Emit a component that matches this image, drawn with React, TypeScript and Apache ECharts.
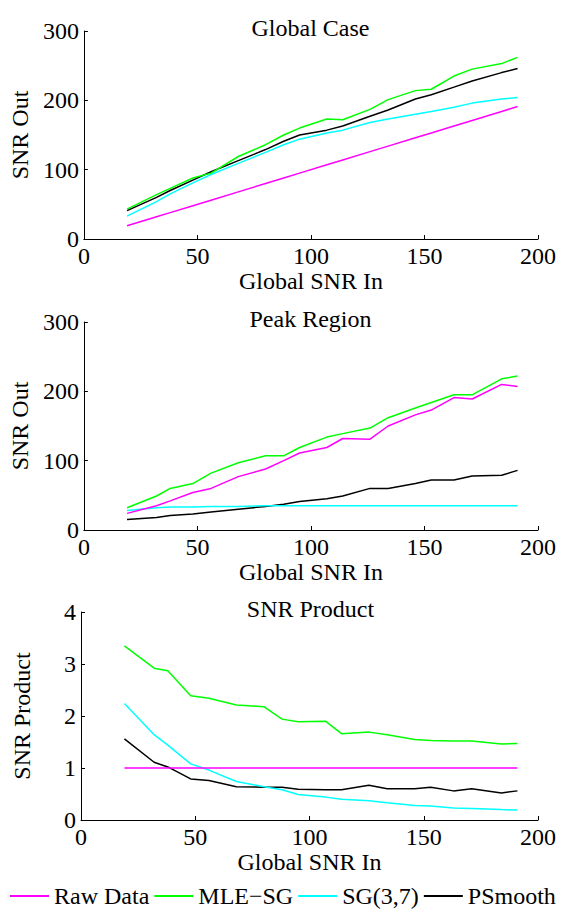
import React, { useEffect, useRef } from "react";
import * as echarts from "echarts";

// Global SNR In (x positions of samples)
const snrIn = [19, 32, 38, 48, 56, 68, 80, 88, 95, 107, 114, 126, 134, 146, 153, 163, 171, 184, 191];

// Panel 1: Global Case (SNR Out)
const globalRaw = [19, 32, 38, 48, 56, 68, 80, 88, 95, 107, 114, 126, 134, 146, 153, 163, 171, 184, 191];
const globalMle = [43, 64, 73, 88, 95, 119, 136, 150, 160, 173, 172, 187, 201, 214, 216, 235, 245, 253, 262];
const globalSg = [33, 54, 65, 81, 93, 109, 125, 136, 144, 153, 157, 168, 173, 180, 184, 190, 196, 202, 204];
const globalPs = [41, 60, 70, 85, 97, 113, 129, 141, 150, 157, 163, 177, 186, 202, 208, 219, 228, 240, 246];

// Panel 2: Peak Region (SNR Out)
const peakRaw = [24, 35, 42, 54, 60, 77, 88, 100, 111, 119, 132, 131, 150, 166, 173, 191, 189, 210, 207];
const peakMle = [32, 49, 60, 67, 82, 97, 107, 107, 119, 134, 139, 147, 162, 176, 184, 195, 195, 218, 222];
const peakSg = [28, 32, 33, 33, 34, 34, 35, 35, 35, 35, 35, 35, 35, 35, 35, 35, 35, 35, 35];
const peakPs = [15, 18, 21, 23, 26, 30, 34, 37, 41, 45, 49, 60, 60, 67, 72, 72, 78, 79, 86];

// Panel 3: SNR Product
const prodRaw = [1, 1, 1, 1, 1, 1, 1, 1, 1, 1, 1, 1, 1, 1, 1, 1, 1, 1, 1];
const prodMle = [3.35, 2.92, 2.87, 2.39, 2.34, 2.21, 2.18, 1.94, 1.89, 1.9, 1.66, 1.69, 1.64, 1.55, 1.53, 1.52, 1.52, 1.46, 1.47];
const prodSg = [2.24, 1.64, 1.44, 1.08, 0.96, 0.74, 0.64, 0.58, 0.49, 0.44, 0.4, 0.37, 0.33, 0.28, 0.27, 0.23, 0.22, 0.2, 0.19];
const prodPs = [1.56, 1.11, 1.02, 0.79, 0.76, 0.64, 0.63, 0.63, 0.59, 0.58, 0.58, 0.67, 0.6, 0.6, 0.63, 0.56, 0.6, 0.52, 0.56];

const seriesNames = ["Raw Data", "MLE\u2212SG", "SG(3,7)", "PSmooth"];
const seriesColors = ["#ff00ff", "#00ff00", "#00ffff", "#000000"];
const panelTitles = ["Global Case", "Peak Region", "SNR Product"];
const yNames = ["SNR Out", "SNR Out", "SNR Product"];
const xName = "Global SNR In";
const xTicks = { min: 0, max: 200, interval: 50 };
const yTicks = [
  { min: 0, max: 300, interval: 100 },
  { min: 0, max: 300, interval: 100 },
  { min: 0, max: 4, interval: 1 },
];

const panels = [
  [globalRaw, globalMle, globalSg, globalPs],
  [peakRaw, peakMle, peakSg, peakPs],
  [prodRaw, prodMle, prodSg, prodPs],
];

const FONT = "'Liberation Serif', 'Times New Roman', serif";
const gridTops = [31, 322, 612];
const GRID_LEFT = 81;
const GRID_W = 457;
const GRID_H = 208;

export default function App() {
  const ref = useRef<HTMLDivElement>(null);
  useEffect(() => {
    document.body.style.margin = "0";
    if (!ref.current) return;
    const chart = echarts.init(ref.current, undefined, { renderer: "svg" });
    const axisCommon = {
      axisLine: { show: true, lineStyle: { color: "#000", width: 1 } },
      axisTick: { show: true, inside: true, length: 4, lineStyle: { color: "#000" } },
      splitLine: { show: false },
      axisLabel: { color: "#000", fontSize: 24, fontFamily: FONT },
      nameTextStyle: { color: "#000", fontSize: 24, fontFamily: FONT },
    };
    const option: any = {
      animation: false,
      backgroundColor: "#fff",
      title: panelTitles.map((t, i) => ({
        text: t,
        left: GRID_LEFT + GRID_W / 2 - 4,
        textAlign: "center",
        top: gridTops[i] - 20,
        textStyle: { color: "#000", fontSize: 24, fontWeight: "normal", fontFamily: FONT },
      })),
      grid: gridTops.map((top) => ({ left: GRID_LEFT, top, width: GRID_W, height: GRID_H })),
      xAxis: gridTops.map((_, i) => ({
        type: "value",
        gridIndex: i,
        min: xTicks.min,
        max: xTicks.max,
        interval: xTicks.interval,
        name: xName,
        nameLocation: "middle",
        nameGap: 28,
        ...axisCommon,
        axisLabel: { ...axisCommon.axisLabel, margin: 5 },
      })),
      yAxis: gridTops.map((_, i) => ({
        type: "value",
        gridIndex: i,
        min: yTicks[i].min,
        max: yTicks[i].max,
        interval: yTicks[i].interval,
        name: yNames[i],
        nameLocation: "middle",
        nameGap: 47,
        ...axisCommon,
        axisLabel: { ...axisCommon.axisLabel, margin: 5 },
      })),
      legend: {
        data: seriesNames.map((n) => ({ name: n, icon: "rect" })),
        left: 10,
        top: 884,
        width: 555,
        padding: 0,
        itemWidth: 39,
        itemHeight: 2,
        itemGap: 5,
        textStyle: { color: "#000", fontSize: 24, lineHeight: 24, fontFamily: FONT },
      },
      series: panels.flatMap((vals, p) =>
        vals.map((arr, s) => ({
          type: "line",
          name: seriesNames[s],
          xAxisIndex: p,
          yAxisIndex: p,
          symbol: "none",
          data: arr.map((v, k) => [snrIn[k], v]),
          lineStyle: { color: seriesColors[s], width: 1.5 },
          itemStyle: { color: seriesColors[s] },
          z: 10 - s,
        }))
      ),
    };
    chart.setOption(option);
    return () => chart.dispose();
  }, []);
  return <div ref={ref} style={{ width: 565, height: 909 }} />;
}
